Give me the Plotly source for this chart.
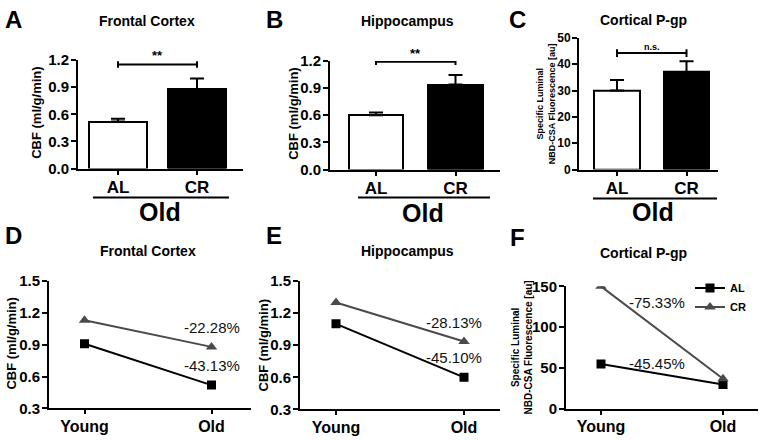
import plotly.graph_objects as go

# ---------------- data ----------------
bar_cats = ["AL", "CR"]
frontal_old = [0.52, 0.88]
frontal_err = [0.03, 0.115]
hippo_old = [0.60, 0.94]
hippo_err = [0.03, 0.105]
pgp_old = [30.0, 37.0]
pgp_err = [4.0, 4.1]
sig_labels = ["**", "**", "n.s."]
sig_heights = [1.15, 1.19, 44.2]

age_cats = ["Young", "Old"]
frontal_AL = [0.91, 0.52]
frontal_CR = [1.13, 0.88]
hippo_AL = [1.10, 0.60]
hippo_CR = [1.30, 0.935]
pgp_AL = [55.0, 30.0]
pgp_CR = [150.0, 37.0]
pct_frontal = ["-43.13%", "-22.28%"]
pct_hippo = ["-45.10%", "-28.13%"]
pct_pgp = ["-45.45%", "-75.33%"]

W, H = 761, 440
FONT = "Liberation Sans, Arial, sans-serif"
GRAY = "#4a4a4a"


def xd(a, b):
    return [a / W, b / W]


def yd(top, bottom):
    return [1 - bottom / H, 1 - top / H]


def px(x):
    return x / W


def py(y):
    return 1 - y / H


fig = go.Figure()

# ---------- panel geometry (pixels) ----------
panels = {
    1: dict(x=(78, 243), y=(53, 166), c0=118, c1=197, yr=[0, 1.2], dt=0.3, fmt=".1f"),
    2: dict(x=(330, 500), y=(54, 167), c0=376, c1=455.5, yr=[0, 1.2], dt=0.3, fmt=".1f"),
    3: dict(x=(579, 718), y=(30, 167), c0=617, c1=686.5, yr=[0, 50], dt=10, fmt="d"),
    4: dict(x=(49, 251), y=(283, 415.5), c0=84.5, c1=211.5, yr=[0.3, 1.5], dt=0.3, fmt=".1f"),
    5: dict(x=(300, 500), y=(283, 416.5), c0=336, c1=464, yr=[0.3, 1.5], dt=0.3, fmt=".1f"),
    6: dict(x=(566, 758), y=(288.5, 416), c0=601, c1=723, yr=[0, 150], dt=50, fmt="d"),
}

axis_common = dict(showline=True, linewidth=2, linecolor="black", ticks="outside",
                   tickwidth=2, tickcolor="black", showgrid=False,
                   zeroline=False, fixedrange=True)

for i, p in panels.items():
    unit = p["c1"] - p["c0"]
    xr = [(p["x"][0] - p["c0"]) / unit, (p["x"][1] - p["c0"]) / unit]
    cats = bar_cats if i <= 3 else age_cats
    tick_size = 15 if i != 3 else 12
    xsize = 17 if i <= 3 else 16
    fig.update_layout(**{
        f"xaxis{i}": dict(domain=xd(*p["x"]), range=xr, anchor=f"y{i}",
                          tickvals=list(range(len(cats))), ticktext=cats,
                          tickfont=dict(family=FONT, size=xsize, color="black", weight="bold"),
                          ticklen=4, ticklabelstandoff=-2, **axis_common),
        f"yaxis{i}": dict(domain=yd(*p["y"]), range=p["yr"], anchor=f"x{i}",
                          dtick=p["dt"], tick0=p["yr"][0], tickformat=p["fmt"],
                          tickfont=dict(family=FONT, size=tick_size, color="black", weight="bold"),
                          ticklen=5, ticklabelstandoff=-1, **axis_common),
    })

# ---------- bar panels ----------
bar_sets = [(frontal_old, frontal_err, 0.74), (hippo_old, hippo_err, 0.68), (pgp_old, pgp_err, 0.66)]
for k, (vals, errs, bw) in enumerate(bar_sets, start=1):
    ax = "" if k == 1 else str(k)
    fig.add_trace(go.Bar(
        x=list(range(len(bar_cats))), y=vals, width=bw,
        marker=dict(color=["white", "black"], line=dict(color="black", width=2)),
        error_y=dict(type="data", array=errs, arrayminus=[0] * len(errs), symmetric=False,
                     color="black", thickness=2, width=7),
        xaxis=f"x{ax}", yaxis=f"y{ax}", showlegend=False, hoverinfo="skip"))
    # significance bracket
    ys = sig_heights[k - 1]
    span = panels[k]["yr"][1] - panels[k]["yr"][0]
    tick = span * 0.03
    for (x0, y0, x1, y1) in [(0, ys, 1, ys), (0, ys - tick, 0, ys + tick), (1, ys - tick, 1, ys + tick)]:
        fig.add_shape(type="line", xref=f"x{ax}", yref=f"y{ax}", x0=x0, y0=y0, x1=x1, y1=y1,
                      line=dict(color="black", width=2))
    fig.add_annotation(xref=f"x{ax}", yref=f"y{ax}", x=0.5, y=ys, text=sig_labels[k - 1],
                       showarrow=False, xanchor="center", yanchor="bottom", yshift=-1,
                       font=dict(family=FONT, size=13 if k < 3 else 9, color="black", weight="bold"))

# ---------- line panels ----------
line_sets = [(4, frontal_AL, frontal_CR), (5, hippo_AL, hippo_CR), (6, pgp_AL, pgp_CR)]
for k, al, cr in line_sets:
    fig.add_trace(go.Scatter(x=list(range(len(age_cats))), y=al, mode="lines+markers", name="AL",
                             line=dict(color="black", width=2),
                             marker=dict(symbol="square", size=9, color="black"),
                             xaxis=f"x{k}", yaxis=f"y{k}", showlegend=(k == 6), hoverinfo="skip"))
    fig.add_trace(go.Scatter(x=list(range(len(age_cats))), y=cr, mode="lines+markers", name="CR",
                             line=dict(color=GRAY, width=2),
                             marker=dict(symbol="triangle-up", size=10, color=GRAY),
                             xaxis=f"x{k}", yaxis=f"y{k}", showlegend=(k == 6), hoverinfo="skip"))

pct_font = dict(family=FONT, size=15, color="#111")
for k, al, cr, pct, xs in [(4, frontal_AL, frontal_CR, pct_frontal, 0),
                           (5, hippo_AL, hippo_CR, pct_hippo, -10)]:
    fig.add_annotation(xref=f"x{k}", yref=f"y{k}", x=1, y=al[1], text=pct[0], showarrow=False,
                       xanchor="center", yanchor="middle", yshift=20, xshift=xs, font=pct_font)
    fig.add_annotation(xref=f"x{k}", yref=f"y{k}", x=1, y=cr[1], text=pct[1], showarrow=False,
                       xanchor="center", yanchor="middle", yshift=19, xshift=xs, font=pct_font)
fig.add_annotation(xref="x6", yref="y6", x=0.46, y=130, text=pct_pgp[1], showarrow=False,
                   xanchor="center", yanchor="middle", font=pct_font)
fig.add_annotation(xref="x6", yref="y6", x=0.46, y=55, text=pct_pgp[0], showarrow=False,
                   xanchor="center", yanchor="middle", font=pct_font)

# ---------- text: titles, letters, axis titles ----------
titles = [("Frontal Cortex", 147, 12), ("Hippocampus", 407, 13), ("Cortical P-gp", 643, 11),
          ("Frontal Cortex", 148, 252), ("Hippocampus", 407, 252), ("Cortical P-gp", 643, 254)]
for t, x, y in titles:
    fig.add_annotation(xref="paper", yref="paper", x=px(x), y=py(y), text=t, showarrow=False,
                       xanchor="center", yanchor="middle",
                       font=dict(family=FONT, size=14, color="black", weight="bold"))

letters = [("A", 13, 11), ("B", 274, 11), ("C", 517, 11), ("D", 13, 236), ("E", 274, 236), ("F", 517, 238)]
for t, x, y in letters:
    fig.add_annotation(xref="paper", yref="paper", x=px(x), y=py(y), text=t, showarrow=False,
                       xanchor="center", yanchor="middle",
                       font=dict(family=FONT, size=24, color="black", weight="bold"))

ytitles = [("CBF (ml/g/min)", 37, 108, 13), ("CBF (ml/g/min)", 294, 109, 13),
           ("Specific Luminal<br>NBD-CSA Fluorescence [au]", 546, 99, 9),
           ("CBF (ml/g/min)", 12, 348, 13), ("CBF (ml/g/min)", 263, 350, 13),
           ("Specific Luminal<br>NBD-CSA Fluorescence [au]", 522, 352, 10)]
for t, x, y, s in ytitles:
    fig.add_annotation(xref="paper", yref="paper", x=px(x), y=py(y), text=t, showarrow=False,
                       xanchor="center", yanchor="middle", textangle=-90,
                       font=dict(family=FONT, size=s, color="black", weight="bold"))

# "Old" group labels with underline
groups = [(93, 229, 196, 160, 211), (358, 490, 196, 423, 212), (593, 717, 197, 653, 211)]
for x0, x1, yl, xt, yt in groups:
    fig.add_shape(type="line", xref="paper", yref="paper", x0=px(x0), x1=px(x1), y0=py(yl), y1=py(yl),
                  line=dict(color="black", width=2))
    fig.add_annotation(xref="paper", yref="paper", x=px(xt), y=py(yt), text="Old", showarrow=False,
                       xanchor="center", yanchor="middle",
                       font=dict(family=FONT, size=25, color="black", weight="bold"))

fig.update_layout(
    width=W, height=H, margin=dict(l=0, r=0, t=0, b=0),
    paper_bgcolor="white", plot_bgcolor="white",
    showlegend=True,
    legend=dict(x=px(690), y=py(275), xanchor="left", yanchor="top",
                font=dict(family=FONT, size=11, color="black", weight="bold"),
                bgcolor="rgba(0,0,0,0)", itemwidth=30, tracegroupgap=0),
    bargap=0,
)

fig.write_html("out.html", config={"displayModeBar": False},
               post_script="document.body.style.margin='0px';")
